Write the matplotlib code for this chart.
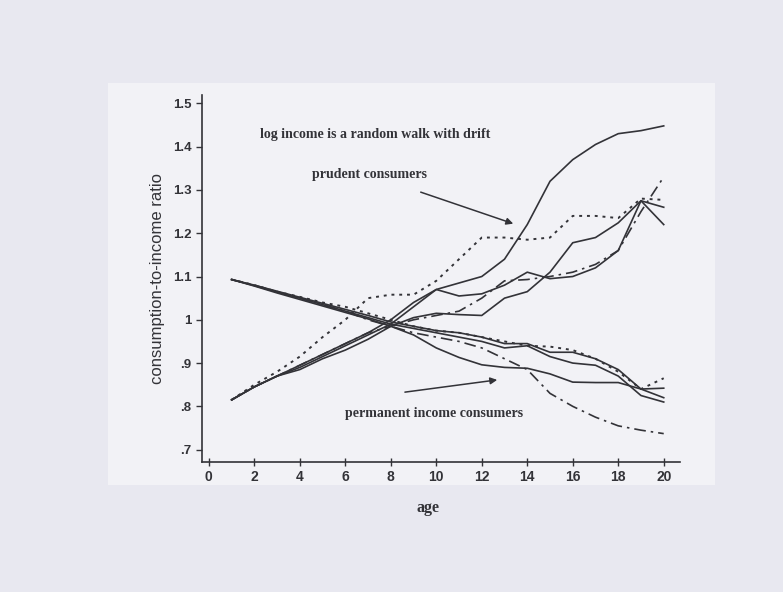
from matplotlib import pyplot as plt
from matplotlib.patches import Rectangle
import numpy as np

# ages 1..20
age = np.arange(1, 21)

# prudent consumers (start low, rise)
prud_top = [.815, .845, .87, .895, .92, .945, .97, 1.00, 1.04, 1.07,
            1.085, 1.10, 1.14, 1.22, 1.32, 1.37, 1.405, 1.43, 1.437, 1.448]
prud_dot = [.815, .85, .88, .915, .96, 1.00, 1.05, 1.058, 1.058, 1.09,
            1.14, 1.19, 1.19, 1.185, 1.19, 1.24, 1.24, 1.235, 1.28, 1.277]
prud_dash = [.815, .845, .87, .895, .92, .945, .97, .985, 1.00, 1.01,
             1.02, 1.05, 1.09, 1.093, 1.10, 1.11, 1.128, 1.16, 1.25, 1.33]
prud_a = [.815, .845, .87, .89, .915, .94, .965, .99, 1.03, 1.07,
          1.055, 1.06, 1.08, 1.11, 1.095, 1.10, 1.12, 1.16, 1.275, 1.22]
prud_b = [.815, .845, .87, .885, .91, .93, .955, .985, 1.005, 1.015,
          1.012, 1.01, 1.05, 1.065, 1.11, 1.178, 1.19, 1.224, 1.275, 1.26]

# permanent income consumers (start high, fall)
perm_dashdot = [1.093, 1.08, 1.065, 1.05, 1.035, 1.02, 1.00, .985, .97, .96,
                .95, .935, .91, .885, .83, .80, .775, .755, .745, .737]
perm_dot = [1.093, 1.08, 1.065, 1.053, 1.04, 1.03, 1.015, 1.00, .985, .975,
            .97, .96, .95, .94, .938, .93, .91, .88, .84, .865]
perm_low = [1.093, 1.078, 1.062, 1.047, 1.032, 1.017, 1.002, .985, .965, .935,
            .913, .896, .89, .888, .875, .856, .855, .855, .84, .842]
perm_a = [1.093, 1.08, 1.066, 1.052, 1.038, 1.024, 1.01, .995, .985, .975,
          .97, .96, .945, .945, .925, .925, .91, .885, .84, .82]
perm_b = [1.093, 1.079, 1.064, 1.05, 1.035, 1.02, 1.005, .99, .98, .97,
          .96, .95, .935, .94, .915, .90, .895, .87, .825, .81]

xticks = np.arange(0, 21, 2)
yticks = [.7, .8, .9, 1.0, 1.1, 1.2, 1.3, 1.4, 1.5]
ytick_labels = ['.7', '.8', '.9', '1', '1.1', '1.2', '1.3', '1.4', '1.5']

serif = 'Liberation Serif'
sans = 'Liberation Sans'
ink = '#333338'

fig = plt.figure(figsize=(7.83, 5.92), dpi=100)
fig.patch.set_facecolor('#e8e8f0')

# scanned page behind the chart
bg = fig.add_axes([0, 0, 1, 1], zorder=-1)
bg.axis('off')
bg.set_xlim(0, 1)
bg.set_ylim(0, 1)
bg.add_patch(Rectangle((0.138, 0.18), 0.775, 0.68, facecolor='#f2f2f6', edgecolor='none'))

ax = fig.add_axes([0.258, 0.22, 0.61, 0.62])
ax.set_facecolor('none')

solid = dict(color=ink, lw=1.2)
dotted = dict(color=ink, lw=1.4, ls=(0, (1.5, 2.5)))
dashdot = dict(color=ink, lw=1.2, ls=(0, (7, 3, 1.5, 3)))

for y in [prud_top, prud_a, prud_b, perm_low, perm_a, perm_b]:
    ax.plot(age, y, **solid)
for y in [prud_dot, perm_dot]:
    ax.plot(age, y, **dotted)
for y in [prud_dash, perm_dashdot]:
    ax.plot(age, y, **dashdot)

ax.set_xlim(-0.3, 20.7)
ax.set_ylim(0.672, 1.52)
ax.set_xticks(xticks)
ax.set_xticklabels([str(t) for t in xticks], fontfamily=sans, fontweight='bold', fontsize=10)
ax.set_yticks(yticks)
ax.set_yticklabels(ytick_labels, fontfamily=sans, fontweight='bold', fontsize=9.5)
ax.tick_params(axis='x', direction='inout', length=6, width=1, colors=ink, pad=3)
ax.tick_params(axis='y', direction='out', length=4, width=1, colors=ink)
for s in ['top', 'right']:
    ax.spines[s].set_visible(False)
for s in ['left', 'bottom']:
    ax.spines[s].set_color(ink)
    ax.spines[s].set_linewidth(1.2)

ax.set_xlabel('age', fontfamily=serif, fontweight='bold', fontsize=11.5, color=ink)
ax.xaxis.set_label_coords(0.473, -0.105)
ax.set_ylabel('consumption-to-income ratio', fontfamily=sans, fontsize=12, color=ink, labelpad=6)

ax.text(7.3, 1.428, 'log income is a random walk with drift', fontfamily=serif,
        fontweight='bold', fontsize=10, ha='center', va='center', color=ink)
ax.text(7.07, 1.336, 'prudent consumers', fontfamily=serif,
        fontweight='bold', fontsize=10, ha='center', va='center', color=ink)
ax.text(9.9, 0.784, 'permanent income consumers', fontfamily=serif,
        fontweight='bold', fontsize=10, ha='center', va='center', color=ink)

arrow = dict(arrowstyle='-|>', color=ink, lw=1.1, mutation_scale=10)
ax.annotate('', xy=(13.5, 1.22), xytext=(9.2, 1.297), arrowprops=arrow)
ax.annotate('', xy=(12.8, 0.862), xytext=(8.5, 0.832), arrowprops=arrow)

plt.savefig('out.png', dpi=100, facecolor=fig.get_facecolor())
